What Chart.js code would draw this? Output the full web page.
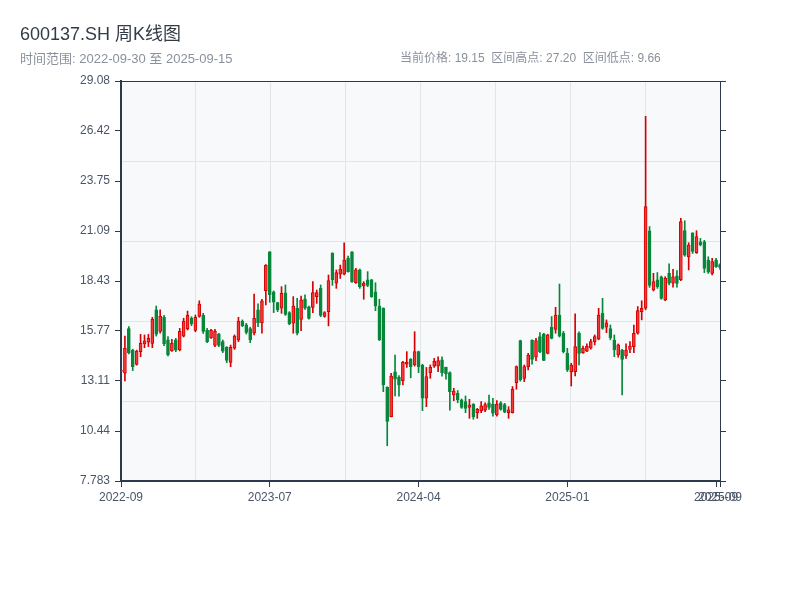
<!DOCTYPE html>
<html>
<head>
<meta charset="utf-8">
<script src="https://cdn.jsdelivr.net/npm/chart.js@4.4.1/dist/chart.umd.min.js"></script>
<style>
  html, body { margin: 0; padding: 0; background: #fff; }
  #wrap { width: 800px; height: 600px; }
</style>
</head>
<body>
<div id="wrap"><canvas id="kline" width="800" height="600"></canvas></div>
<script>
// weekly bars, 600137.SH
const dates = [
  '2022-09-30','2022-10-14','2022-10-21','2022-10-28','2022-11-04','2022-11-11','2022-11-18','2022-11-25','2022-12-02','2022-12-09','2022-12-16','2022-12-23','2022-12-30',
  '2023-01-06','2023-01-13','2023-01-20','2023-01-27','2023-02-03','2023-02-10','2023-02-17','2023-02-24','2023-03-03','2023-03-10','2023-03-17','2023-03-24','2023-03-31',
  '2023-04-07','2023-04-14','2023-04-21','2023-04-28','2023-05-05','2023-05-12','2023-05-19','2023-05-26','2023-06-02','2023-06-09','2023-06-16','2023-06-23','2023-06-30',
  '2023-07-07','2023-07-14','2023-07-21','2023-07-28','2023-08-04','2023-08-11','2023-08-18','2023-08-25','2023-09-01','2023-09-08','2023-09-15','2023-09-22','2023-09-28',
  '2023-10-13','2023-10-20','2023-10-27','2023-11-03','2023-11-10','2023-11-17','2023-11-24','2023-12-01','2023-12-08','2023-12-15','2023-12-22','2023-12-29',
  '2024-01-05','2024-01-12','2024-01-19','2024-01-26','2024-02-02','2024-02-09','2024-02-16','2024-02-23','2024-03-01','2024-03-08','2024-03-15','2024-03-22','2024-03-29',
  '2024-04-05','2024-04-12','2024-04-19','2024-04-26','2024-05-03','2024-05-10','2024-05-17','2024-05-24','2024-05-31','2024-06-07','2024-06-14','2024-06-21','2024-06-28',
  '2024-07-05','2024-07-12','2024-07-19','2024-07-26','2024-08-02','2024-08-09','2024-08-16','2024-08-23','2024-08-30','2024-09-06','2024-09-13','2024-09-20','2024-09-27',
  '2024-09-30','2024-10-11','2024-10-18','2024-10-25','2024-11-01','2024-11-08','2024-11-15','2024-11-22','2024-11-29','2024-12-06','2024-12-13','2024-12-20','2024-12-27',
  '2025-01-03','2025-01-10','2025-01-17','2025-01-24','2025-01-27','2025-02-07','2025-02-14','2025-02-21','2025-02-28','2025-03-07','2025-03-14','2025-03-21','2025-03-28',
  '2025-04-03','2025-04-11','2025-04-18','2025-04-25','2025-04-30','2025-05-09','2025-05-16','2025-05-23','2025-05-30','2025-06-06','2025-06-13','2025-06-20','2025-06-27',
  '2025-07-04','2025-07-11','2025-07-18','2025-07-25','2025-08-01','2025-08-08','2025-08-15','2025-08-22','2025-08-29','2025-09-05','2025-09-12','2025-09-15'
];

const open = [
  13.62, 13.52, 15.90, 14.76, 13.99, 14.67, 15.08, 15.17, 15.11, 16.90,
  15.75, 16.50, 15.30, 14.71, 15.30, 14.76, 15.50, 15.90, 16.45, 15.80,
  16.55, 16.60, 15.80, 15.40, 15.00, 15.60, 15.20, 14.90, 14.10, 14.85,
  15.30, 16.30, 16.10, 15.90, 15.65, 16.90, 16.20, 17.92, 19.98, 17.85,
  17.28, 16.98, 17.80, 16.75, 16.18, 16.98, 16.39, 17.47, 17.06, 17.03,
  17.60, 18.04, 16.55, 16.80, 19.90, 18.31, 18.80, 18.80, 19.64, 19.99,
  18.34, 19.02, 18.17, 18.50, 18.49, 17.85, 17.10, 16.99, 12.77, 11.21,
  13.60, 13.30, 13.13, 14.00, 14.28, 13.96, 14.67, 13.96, 12.19, 13.55,
  13.90, 13.90, 14.23, 13.83, 13.55, 12.36, 12.45, 12.10, 12.01, 11.70,
  11.88, 11.42, 11.53, 11.55, 11.95, 11.88, 11.30, 11.95, 11.85, 11.42,
  11.42, 13.02, 15.26, 13.25, 13.87, 15.29, 14.37, 15.47, 15.60, 14.58,
  15.97, 15.86, 16.62, 15.65, 14.58, 13.61, 13.61, 15.65, 14.62, 14.70,
  14.85, 15.20, 15.33, 16.71, 15.97, 15.90, 15.29, 14.49, 14.76, 14.44,
  14.79, 14.94, 15.65, 16.80, 16.98, 21.10, 17.95, 18.49, 18.66, 17.42,
  18.84, 18.31, 18.70, 18.50, 21.11, 19.72, 20.99, 19.94, 20.52, 20.52,
  19.55, 18.84, 19.55, 19.30
];
const close = [
  13.68, 14.85, 14.60, 13.87, 14.70, 15.11, 15.25, 15.38, 16.39, 15.60,
  16.55, 15.10, 14.50, 15.11, 14.75, 15.75, 16.30, 16.60, 16.15, 16.50,
  17.20, 15.75, 15.20, 15.80, 15.75, 15.00, 14.70, 14.20, 14.90, 15.50,
  16.30, 16.05, 15.70, 15.30, 16.44, 16.20, 17.38, 19.28, 17.70, 17.30,
  16.90, 17.78, 16.65, 16.15, 17.10, 15.65, 17.42, 16.98, 16.44, 17.81,
  17.81, 16.60, 16.75, 18.45, 18.50, 18.88, 19.05, 19.55, 18.93, 18.40,
  19.02, 18.13, 18.31, 18.20, 17.60, 17.10, 15.30, 12.90, 10.95, 13.37,
  13.20, 12.90, 14.10, 14.10, 13.87, 14.67, 13.87, 12.19, 13.34, 13.83,
  14.15, 14.19, 13.55, 13.50, 12.54, 12.57, 12.10, 11.70, 11.65, 11.83,
  11.20, 11.60, 11.78, 11.85, 11.70, 11.40, 11.88, 11.60, 11.45, 11.57,
  12.67, 13.87, 13.16, 13.87, 14.49, 14.26, 15.26, 14.67, 14.20, 15.56,
  15.38, 16.62, 15.50, 14.67, 13.70, 13.96, 14.94, 14.58, 14.85, 14.95,
  15.20, 15.47, 16.62, 15.91, 16.20, 15.40, 14.76, 15.03, 14.26, 14.76,
  14.97, 15.65, 16.85, 16.98, 22.39, 18.20, 18.40, 18.13, 17.51, 18.57,
  18.31, 18.66, 18.30, 21.59, 19.81, 20.35, 20.00, 20.79, 20.35, 19.10,
  18.90, 19.46, 19.20, 19.15
];
const high = [
  13.75, 15.50, 16.00, 14.80, 14.75, 15.59, 15.56, 15.59, 16.50, 17.10,
  16.89, 16.60, 15.47, 15.33, 15.38, 15.91, 16.45, 16.83, 16.53, 16.62,
  17.38, 16.71, 15.91, 15.86, 15.86, 15.65, 15.29, 14.94, 15.02, 15.56,
  16.50, 16.36, 16.18, 15.97, 17.74, 17.21, 17.45, 19.30, 20.00, 17.90,
  17.30, 18.13, 18.22, 16.80, 17.60, 17.51, 17.63, 17.69, 17.10, 18.40,
  17.95, 18.22, 16.80, 18.75, 19.94, 19.02, 19.28, 20.47, 19.76, 20.00,
  19.10, 19.07, 18.40, 18.93, 18.52, 18.34, 17.46, 17.00, 12.80, 13.52,
  14.49, 13.40, 14.15, 14.67, 14.30, 15.73, 14.70, 14.00, 13.83, 13.96,
  14.31, 14.40, 14.40, 13.85, 13.60, 12.72, 12.60, 12.15, 12.31, 12.13,
  11.90, 11.65, 12.01, 11.95, 12.36, 12.18, 12.06, 12.01, 11.92, 11.74,
  12.81, 13.91, 15.28, 13.96, 14.58, 15.30, 15.38, 15.68, 15.65, 15.60,
  16.54, 17.03, 18.27, 15.75, 14.85, 14.05, 16.68, 15.73, 14.97, 15.08,
  15.33, 15.56, 16.98, 17.51, 16.36, 16.09, 15.56, 15.08, 14.80, 15.08,
  15.20, 16.09, 17.07, 17.38, 27.20, 21.33, 18.84, 18.88, 18.70, 18.66,
  19.34, 19.05, 18.98, 21.77, 21.64, 20.47, 21.00, 21.11, 20.70, 20.60,
  19.72, 19.64, 19.64, 19.34
];
const low = [
  13.58, 13.11, 14.55, 13.66, 13.95, 14.40, 14.88, 14.94, 14.88, 15.50,
  15.65, 14.99, 14.44, 14.68, 14.67, 14.71, 15.45, 15.82, 16.05, 15.73,
  16.50, 15.64, 15.15, 15.38, 14.94, 14.94, 14.62, 14.08, 13.87, 14.79,
  15.20, 16.00, 15.61, 15.15, 15.56, 16.00, 15.65, 17.16, 17.30, 16.75,
  16.80, 16.71, 16.60, 16.10, 15.65, 15.56, 15.79, 16.92, 16.40, 16.75,
  17.24, 16.53, 16.50, 16.04, 18.20, 18.04, 18.57, 18.75, 18.90, 18.35,
  18.30, 18.04, 17.46, 18.13, 17.56, 16.85, 15.26, 12.54, 9.66, 11.20,
  12.31, 12.30, 12.90, 13.83, 13.28, 13.90, 13.55, 11.53, 11.74, 13.25,
  13.83, 13.60, 13.37, 13.20, 11.56, 12.06, 11.95, 11.65, 11.42, 11.12,
  11.07, 11.12, 11.42, 11.47, 11.60, 11.24, 11.24, 11.55, 11.42, 11.12,
  11.40, 12.67, 13.10, 13.07, 13.70, 14.00, 14.19, 14.62, 14.19, 14.55,
  15.35, 15.65, 15.45, 14.60, 13.61, 12.84, 13.38, 13.96, 14.58, 14.67,
  14.80, 15.03, 15.30, 15.86, 15.68, 15.30, 14.40, 14.37, 12.36, 14.31,
  14.62, 14.62, 15.60, 16.36, 16.90, 18.09, 17.90, 18.04, 17.46, 17.38,
  18.22, 18.10, 18.10, 18.45, 19.75, 19.02, 19.90, 19.90, 20.30, 18.88,
  18.84, 18.75, 19.16, 19.05
];

const yTicks = [7.783, 10.44, 13.11, 15.77, 18.43, 21.09, 23.75, 26.42, 29.08];
const xTickIndex = [0, 38, 76, 114, 152, 153];
const xTickText = ['2022-09', '2023-07', '2024-04', '2025-01', '2025-09', '2025-09'];
// background grid: 8 columns, 5 rows
const gridCols = [0, 1, 2, 3, 4, 5, 6, 7, 8];
const gridRows = [0, 1, 2, 3, 4, 5];

const titleText = '600137.SH 周K线图';
const rangeText = '时间范围: 2022-09-30 至 2025-09-15';
const statsText = '当前价格: 19.15  区间高点: 27.20  区间低点: 9.66';

const UP = '#d60000';
const UP_FILL = '#f03a3a';
const DOWN = '#07873a';
const AXIS = '#2d3a4b';
const GRID = '#e2e5ea';
const TEXT = '#4a5568';
const FONT = "'Helvetica Neue', Helvetica, Arial, 'Noto Sans CJK SC', sans-serif";

Chart.defaults.font.family = FONT;
Chart.defaults.color = TEXT;

const isUp = close.map((c, i) => c >= open[i]);
const bodies = open.map((o, i) => [o, close[i]]);
const wicks = low.map((l, i) => [l, high[i]]);

const plotBackground = {
    id: 'plotBackground',
    beforeDraw(chart) {
        const { ctx, chartArea: a } = chart;
        ctx.save();
        ctx.fillStyle = '#f7f9fb';
        ctx.fillRect(a.left, a.top, a.right - a.left, a.bottom - a.top);
        ctx.restore();
    },
};

const headerText = {
    id: 'headerText',
    afterDraw(chart) {
        const ctx = chart.ctx;
        ctx.save();
        ctx.textBaseline = 'middle';
        ctx.fillStyle = '#333b47';
        ctx.font = '18px ' + FONT;
        ctx.fillText(titleText, 20, 35);
        ctx.fillStyle = '#8a919c';
        ctx.font = '13px ' + FONT;
        ctx.fillText(rangeText, 20, 59);
        ctx.font = '12px ' + FONT;
        ctx.fillText(statsText, 400, 59);
        ctx.restore();
    },
};

const yAxisBase = {
    min: 7.783,
    max: 29.08,
    afterBuildTicks: (scale) => {
        scale.ticks = yTicks.map((v) => ({ value: v }));
    },
};

new Chart(document.getElementById('kline'), {
    type: 'bar',
    data: {
        labels: dates,
        datasets: [
            {
                label: 'body',
                data: bodies,
                grouped: false,
                barThickness: 3,
                backgroundColor: isUp.map((u) => (u ? UP_FILL : DOWN)),
                borderColor: isUp.map((u) => (u ? UP : DOWN)),
                borderWidth: 1,
                borderSkipped: false,
            },
            {
                label: 'wick',
                data: wicks,
                grouped: false,
                barThickness: 1,
                backgroundColor: isUp.map((u) => (u ? UP : DOWN)),
                borderWidth: 0,
            },
        ],
    },
    options: {
        responsive: false,
        animation: false,
        layout: { padding: { top: 81, left: 0, right: 0, bottom: 0 } },
        plugins: {
            legend: { display: false },
            tooltip: { enabled: false },
        },
        scales: {
            x: {
                type: 'category',
                position: 'bottom',
                offset: false,
                grid: {
                    offset: false,
                    drawOnChartArea: false,
                    tickLength: 6,
                    color: (ctx) => (xTickIndex.includes(ctx.index) ? AXIS : 'rgba(0,0,0,0)'),
                },
                border: { color: AXIS, width: 2 },
                ticks: {
                    autoSkip: false,
                    maxRotation: 0,
                    minRotation: 0,
                    padding: 3,
                    font: { size: 12 },
                    callback: (value, index) => {
                        const k = xTickIndex.indexOf(index);
                        return k >= 0 ? xTickText[k] : '';
                    },
                },
                afterFit: (scale) => {
                    scale.height = 119;
                },
            },
            xGrid: {
                type: 'linear',
                position: 'top',
                min: 0,
                max: 8,
                offset: false,
                afterBuildTicks: (scale) => {
                    scale.ticks = gridCols.map((v) => ({ value: v }));
                },
                grid: { color: GRID, drawTicks: false, offset: false },
                border: { color: AXIS, width: 1 },
                ticks: { display: false },
                afterFit: (scale) => {
                    scale.height = 0;
                },
            },
            y: {
                ...yAxisBase,
                position: 'left',
                grid: { drawOnChartArea: false, tickLength: 6, color: AXIS },
                border: { color: AXIS, width: 2 },
                ticks: {
                    padding: 5,
                    font: { size: 12 },
                    callback: (value) => String(value),
                },
                afterFit: (scale) => {
                    scale.width = 121;
                },
            },
            yRight: {
                ...yAxisBase,
                position: 'right',
                grid: { drawOnChartArea: false, tickLength: 6, color: AXIS },
                border: { color: AXIS, width: 1 },
                ticks: { display: false },
                afterFit: (scale) => {
                    scale.width = 80;
                },
            },
            yGrid: {
                type: 'linear',
                position: 'right',
                min: 0,
                max: 5,
                afterBuildTicks: (scale) => {
                    scale.ticks = gridRows.map((v) => ({ value: v }));
                },
                grid: { color: GRID, drawTicks: false },
                border: { display: false },
                ticks: { display: false },
                afterFit: (scale) => {
                    scale.width = 0;
                },
            },
        },
    },
    plugins: [plotBackground, headerText],
});
</script>
</body>
</html>
